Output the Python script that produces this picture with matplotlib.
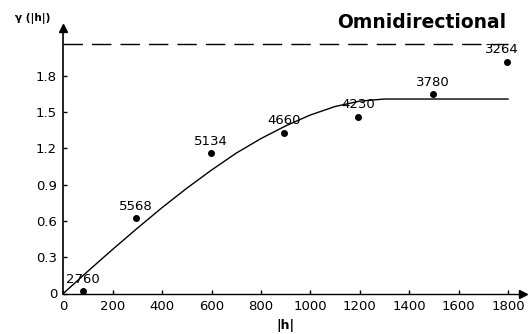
import numpy as np
import matplotlib.pyplot as plt

# experimental variogram points (lag, gamma, number of pairs)
lags = [78, 295, 598, 895, 1195, 1498, 1798]
gamma = [0.02, 0.621, 1.158, 1.329, 1.461, 1.646, 1.916]
pairs = [2760, 5568, 5134, 4660, 4230, 3780, 3264]

# fitted model
model_h = [0, 100, 200, 300, 400, 500, 600, 700, 800, 900, 1000,
           1100, 1200, 1300, 1400, 1500, 1600, 1700, 1800]
model_g = [0, 0.185, 0.365, 0.54, 0.71, 0.87, 1.02, 1.16, 1.28, 1.385, 1.475,
           1.545, 1.59, 1.607, 1.607, 1.607, 1.607, 1.607, 1.607]

variance = 2.06

xticks = [0, 200, 400, 600, 800, 1000, 1200, 1400, 1600, 1800]
yticks = [0, 0.3, 0.6, 0.9, 1.2, 1.5, 1.8]
ytick_labels = ['0', '0.3', '0.6', '0.9', '1.2', '1.5', '1.8']

plt.rcParams['font.family'] = 'DejaVu Sans'
fig = plt.figure(figsize=(5.3, 3.34), dpi=100)
ax = fig.add_axes([63.3/530, 40.5/334, 459.7/530, 265.5/334])

ax.plot(model_h, model_g, color='black', lw=1)
ax.plot(lags, gamma, 'o', color='black', ms=4)
ax.axhline(variance, xmin=0, xmax=1800/1861, color='black', lw=1, dashes=(14, 6.5))

for h, g, n in zip(lags, gamma, pairs):
    dx = -4 if n == 3264 else 0
    ax.annotate(str(n), (h, g), xytext=(dx, 8.5), textcoords='offset points',
                ha='center', va='center', fontsize=9.5)

ax.set_xlim(0, 1861)
ax.set_ylim(0, 2.194)
ax.set_xticks(xticks)
ax.set_yticks(yticks)
ax.set_yticklabels(ytick_labels)
ax.tick_params(direction='in', length=3, labelsize=9.5, width=1)
ax.tick_params(axis='x', pad=5)
ax.tick_params(axis='y', pad=4.5)
for s in ['top', 'right']:
    ax.spines[s].set_visible(False)
ax.spines['left'].set_linewidth(1.2)
ax.spines['bottom'].set_linewidth(1)

# axis arrows
ax.plot(1, 0, '>', color='black', ms=6, transform=ax.transAxes, clip_on=False)
ax.plot(0, 1, '^', color='black', ms=6, transform=ax.transAxes, clip_on=False)

fig.text(421.5/530, 1 - 22/334, 'Omnidirectional', ha='center', va='center',
         fontsize=13.5, fontweight='bold')
fig.text(15/530, 1 - 18/334, 'γ (|h|)', ha='left', va='center',
         fontsize=7.5, fontweight='bold')
fig.text(285/530, 1 - 325/334, '|h|', ha='center', va='center',
         fontsize=9, fontweight='bold')

fig.savefig('out.png', dpi=100)
